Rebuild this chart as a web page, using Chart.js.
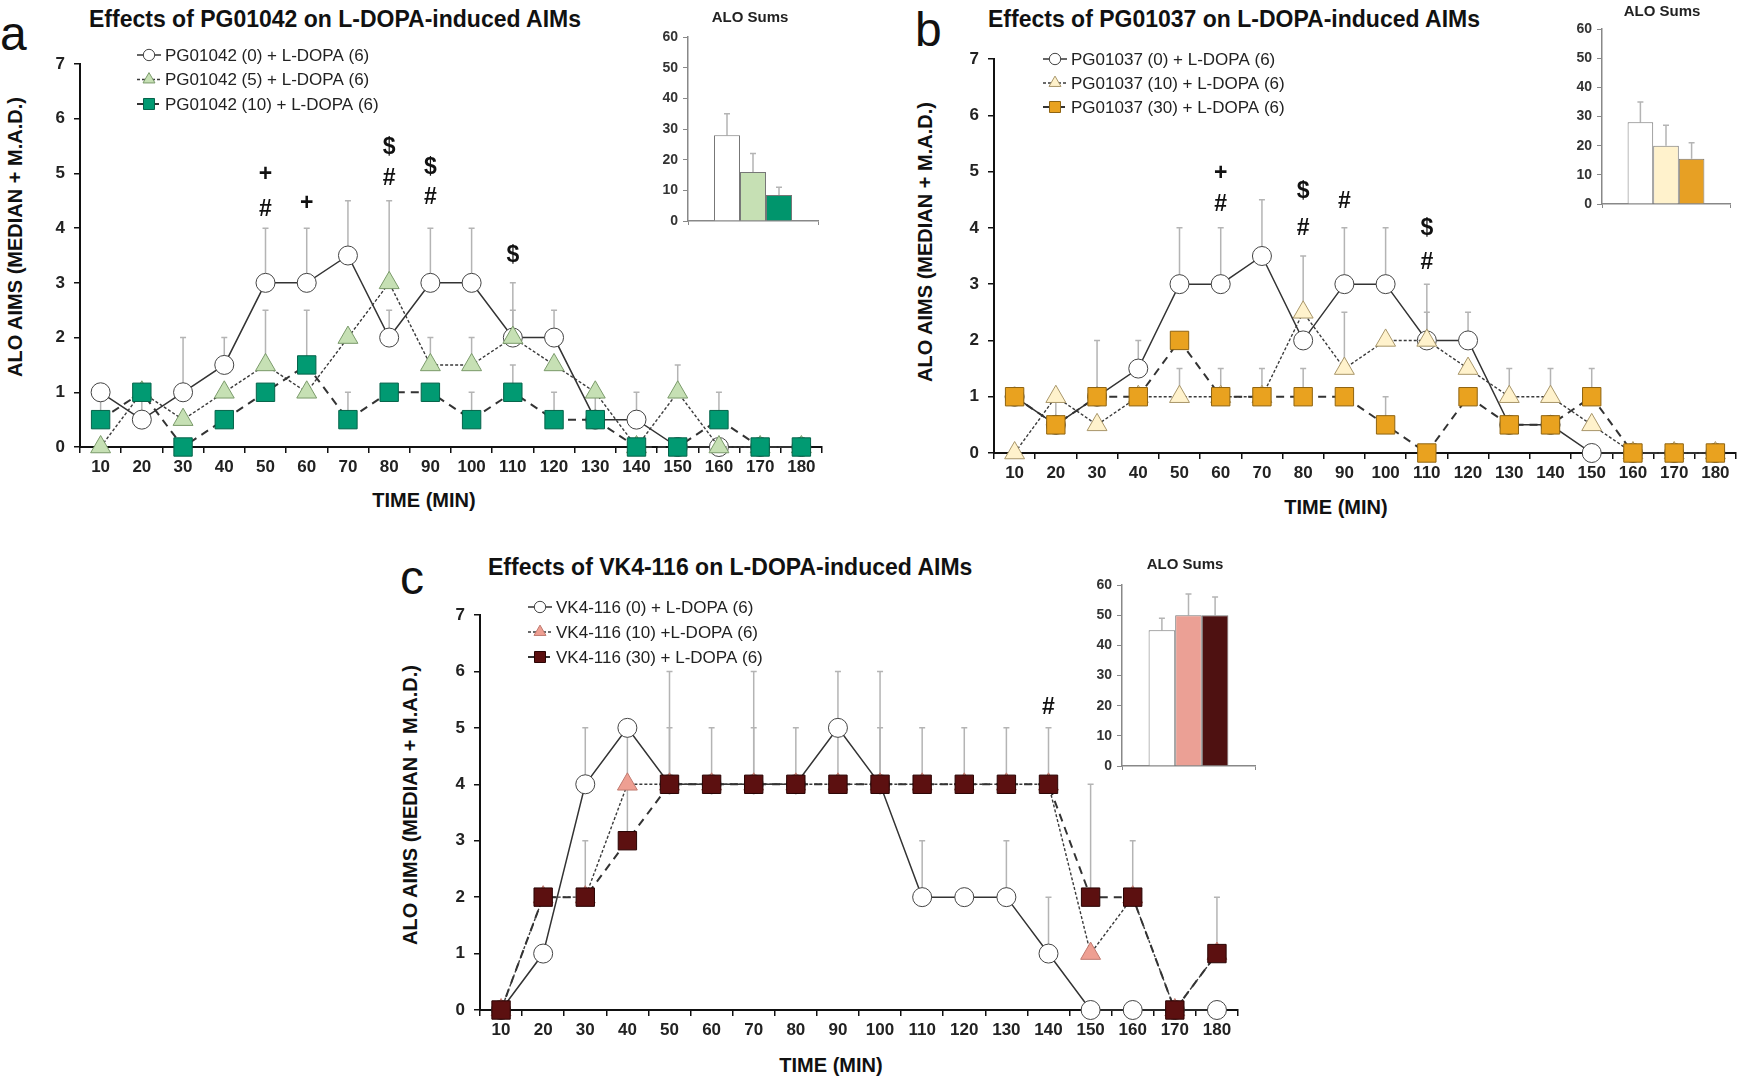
<!DOCTYPE html>
<html>
<head>
<meta charset="utf-8">
<script src="https://cdn.jsdelivr.net/npm/chart.js@4.4.1/dist/chart.umd.min.js"></script>
<style>
body { margin: 0; background: #fff; width: 1740px; height: 1079px; position: relative; overflow: hidden; font-family: "Liberation Sans", Arial, sans-serif; }
canvas { position: absolute; }
.t { position: absolute; white-space: nowrap; color: #111; line-height: 1; }
.letter { font-size: 48px; }
.title { font-size: 23px; font-weight: bold; }
.mid { transform: translate(-50%, -50%); }
.ytitle { font-size: 20px; font-weight: bold; transform: translate(-50%, -50%) rotate(-90deg); }
.xtitle { font-size: 20px; font-weight: bold; }
.sum { font-size: 15px; font-weight: bold; color: #222; }
</style>
</head>
<body>

<div class="t letter" style="left:0px;top:10px">a</div>
<div class="t letter" style="left:915px;top:6px">b</div>
<div class="t letter" style="left:400px;top:554px">c</div>

<div class="t title" style="left:89px;top:8px">Effects of PG01042 on L-DOPA-induced AIMs</div>
<div class="t title" style="left:988px;top:8px">Effects of PG01037 on L-DOPA-induced AIMs</div>
<div class="t title" style="left:488px;top:556px">Effects of VK4-116 on L-DOPA-induced AIMs</div>

<div class="t ytitle" style="left:15px;top:237px">ALO AIMS (MEDIAN + M.A.D.)</div>
<div class="t ytitle" style="left:925px;top:242px">ALO AIMS (MEDIAN + M.A.D.)</div>
<div class="t ytitle" style="left:410px;top:805px">ALO AIMS (MEDIAN + M.A.D.)</div>

<div class="t xtitle mid" style="left:424px;top:500px">TIME (MIN)</div>
<div class="t xtitle mid" style="left:1336px;top:507px">TIME (MIN)</div>
<div class="t xtitle mid" style="left:831px;top:1065px">TIME (MIN)</div>

<canvas id="chartA" width="840" height="490" style="left:0px;top:0px"></canvas>
<canvas id="chartB" width="852" height="490" style="left:900px;top:0px"></canvas>
<canvas id="chartC" width="872" height="539" style="left:380px;top:540px"></canvas>

<canvas id="sumA" width="200" height="240" style="left:628px;top:0px"></canvas>
<canvas id="sumB" width="195" height="225" style="left:1545px;top:0px"></canvas>
<canvas id="sumC" width="195" height="225" style="left:1065px;top:560px"></canvas>

<div class="t sum mid" style="left:750px;top:16px">ALO Sums</div>
<div class="t sum mid" style="left:1662px;top:10px">ALO Sums</div>
<div class="t sum mid" style="left:1185px;top:563px">ALO Sums</div>

<script>
var times = ['10', '20', '30', '40', '50', '60', '70', '80', '90', '100', '110', '120', '130', '140', '150', '160', '170', '180'];

// panel a - PG01042
var aCtrl = [1, 0.5, 1, 1.5, 3, 3, 3.5, 2, 3, 3, 2, 2, 0.5, 0.5, 0, 0, 0, 0];
var aLow = [0, 1, 0.5, 1, 1.5, 1, 2, 3, 1.5, 1.5, 2, 1.5, 1, 0, 1, 0, 0, 0];
var aHigh = [0.5, 1, 0, 0.5, 1, 1.5, 0.5, 1, 1, 0.5, 1, 0.5, 0.5, 0, 0, 0.5, 0, 0];
var aCtrlErr = [null, 1, 2, 2, 4, 4, 4.5, 2.5, 4, 4, 3, 2.5, null, 1, null, null, null, null];
var aLowErr = [null, null, null, null, 2.5, null, null, 4.5, 2, 2, 2.5, null, null, null, 1.5, null, null, null];
var aHighErr = [1, null, null, null, null, 2.5, 1, null, null, 1, 1.5, 1, 1, null, null, 1, null, null];

// panel b - PG01037
var bCtrl = [1, 0.5, 1, 1.5, 3, 3, 3.5, 2, 3, 3, 2, 2, 0.5, 0.5, 0, 0, 0, 0];
var bLow = [0, 1, 0.5, 1, 1, 1, 1, 2.5, 1.5, 2, 2, 1.5, 1, 1, 0.5, 0, 0, 0];
var bHigh = [1, 0.5, 1, 1, 2, 1, 1, 1, 1, 0.5, 0, 1, 0.5, 0.5, 1, 0, 0, 0];
var bCtrlErr = [null, null, 2, 2, 4, 4, 4.5, null, 4, 4, 3, 2.5, null, null, null, null, null, null];
var bLowErr = [null, null, null, null, 1.5, 1.5, 1.5, 3.5, 2.5, null, 2.5, null, 1.5, 1.5, null, null, null, null];
var bHighErr = [null, 1, null, null, null, null, null, 1.5, null, 1, null, null, null, null, 1.5, null, null, null];

// panel c - VK4-116
var cCtrl = [0, 1, 4, 5, 4, 4, 4, 4, 5, 4, 2, 2, 2, 1, 0, 0, 0, 0];
var cLow = [0, 2, 2, 4, 4, 4, 4, 4, 4, 4, 4, 4, 4, 4, 1, 2, 0, 1];
var cHigh = [0, 2, 2, 3, 4, 4, 4, 4, 4, 4, 4, 4, 4, 4, 2, 2, 0, 1];
var cCtrlErr = [null, null, 5, null, null, null, null, null, 6, null, 3, null, 3, 2, null, null, null, null];
var cLowErr = [null, null, null, 5, 5, null, 5, null, null, 5, null, null, null, null, null, null, null, null];
var cHighErr = [null, null, 3, 4, 6, 5, 6, 5, 5, 6, 5, 5, 5, 5, 4, 3, null, 2];

// significance marks: time, height, symbol
var aMarkAt = ['50', '50', '60', '80', '80', '90', '90', '110'];
var aMarkY = [4.97, 4.34, 4.44, 5.48, 4.91, 5.11, 4.56, 3.49];
var aMarkSym = ['+', '#', '+', '$', '#', '$', '#', '$'];
var bMarkAt = ['60', '60', '80', '80', '90', '110', '110'];
var bMarkY = [4.96, 4.42, 4.64, 3.99, 4.46, 3.99, 3.39];
var bMarkSym = ['+', '#', '$', '#', '#', '$', '#'];
var cMarkAt = ['140'];
var cMarkY = [5.36];
var cMarkSym = ['#'];

// ALO sums insets
var aSums = [28, 16, 8.5];
var aSumErr = [35, 22, 11];
var bSums = [28, 20, 15.5];
var bSumErr = [35, 27, 21];
var cSums = [45, 50, 50];
var cSumErr = [49, 57, 56];

var FONT = '"Liberation Sans", Arial, sans-serif';

var errorBars = {
    id: 'errorBars',
    beforeDatasetsDraw: function(chart) {
        var ctx = chart.ctx;
        var ys = chart.scales.y;
        chart.data.datasets.forEach(function(ds, i) {
            if (!ds.errTop) return;
            var meta = chart.getDatasetMeta(i);
            ds.errTop.forEach(function(top, j) {
                if (top == null) return;
                var x = meta.data[j].x;
                var y0 = ys.getPixelForValue(ds.data[j]);
                var y1 = ys.getPixelForValue(top);
                ctx.save();
                ctx.strokeStyle = '#b4b4b4';
                ctx.lineWidth = 1.5;
                ctx.beginPath();
                ctx.moveTo(x, y0);
                ctx.lineTo(x, y1);
                ctx.moveTo(x - 3, y1);
                ctx.lineTo(x + 3, y1);
                ctx.stroke();
                ctx.restore();
            });
        });
    }
};

var boxLegend = {
    id: 'boxLegend',
    afterDraw: function(chart, args, opts) {
        if (!opts || opts.x == null) return;
        var ctx = chart.ctx;
        chart.data.datasets.forEach(function(ds, i) {
            var y = opts.y + i * opts.gap;
            var x0 = opts.x, x1 = opts.x + 24;
            ctx.save();
            ctx.strokeStyle = ds.borderColor;
            ctx.lineWidth = ds.borderWidth;
            ctx.setLineDash(ds.borderDash || []);
            ctx.beginPath();
            ctx.moveTo(x0, y);
            ctx.lineTo(x1, y);
            ctx.stroke();
            ctx.setLineDash([]);
            ctx.fillStyle = ds.pointBackgroundColor;
            ctx.strokeStyle = ds.pointBorderColor;
            ctx.lineWidth = 1;
            Chart.helpers.drawPoint(ctx, { pointStyle: ds.pointStyle, radius: ds.pointRadius * 0.6, borderWidth: 1, rotation: 0 }, (x0 + x1) / 2, y);
            ctx.fillStyle = '#222';
            ctx.font = '17px ' + FONT;
            ctx.textBaseline = 'middle';
            ctx.fillText(ds.label, x1 + 4, y + 1);
            ctx.restore();
        });
    }
};

var sigMarks = {
    id: 'sigMarks',
    afterDatasetsDraw: function(chart, args, opts) {
        if (!opts || !opts.at) return;
        var ctx = chart.ctx;
        var xs = chart.scales.x, ys = chart.scales.y;
        ctx.save();
        ctx.font = 'bold 23px ' + FONT;
        ctx.fillStyle = '#111';
        ctx.textAlign = 'center';
        ctx.textBaseline = 'middle';
        opts.at.forEach(function(t, k) {
            ctx.fillText(opts.sym[k], xs.getPixelForValue(times.indexOf(t)), ys.getPixelForValue(opts.y[k]));
        });
        ctx.restore();
    }
};

function ctrlSet(label, data, err) {
    return { label: label, data: data, errTop: err, clip: false, order: 2,
        borderColor: '#333', borderWidth: 1.5, borderDash: [],
        pointStyle: 'circle', pointRadius: 9.5, pointHoverRadius: 9.5,
        pointBackgroundColor: '#fff', pointBorderColor: '#444', pointBorderWidth: 1 };
}

function triSet(label, data, err, fill, edge) {
    return { label: label, data: data, errTop: err, clip: false, order: 1,
        borderColor: '#3a3a3a', borderWidth: 1.4, borderDash: [3, 2],
        pointStyle: 'triangle', pointRadius: 11.5, pointHoverRadius: 11.5,
        pointBackgroundColor: fill, pointBorderColor: edge, pointBorderWidth: 1 };
}

function sqSet(label, data, err, fill, edge) {
    return { label: label, data: data, errTop: err, clip: false, order: 0,
        borderColor: '#333', borderWidth: 2, borderDash: [8, 6],
        pointStyle: 'rect', pointRadius: 13, pointHoverRadius: 13,
        pointBackgroundColor: fill, pointBorderColor: edge, pointBorderWidth: 1 };
}

function lineChart(id, sets, box, legend, marks) {
    return new Chart(document.getElementById(id), {
        type: 'line',
        data: { labels: times, datasets: sets },
        options: {
            responsive: false,
            animation: false,
            devicePixelRatio: 1,
            layout: { padding: { top: box.top, right: box.right, left: 0, bottom: 0 } },
            plugins: {
                legend: { display: false },
                tooltip: { enabled: false },
                boxLegend: legend,
                sigMarks: marks
            },
            scales: {
                x: {
                    offset: true,
                    grid: { offset: true, drawOnChartArea: false, tickLength: 6, color: '#111', lineWidth: 1.5 },
                    border: { color: '#111', width: 2 },
                    ticks: { color: '#222', autoSkip: false, maxRotation: 0, padding: 4, font: { family: FONT, size: 17, weight: 'bold' } },
                    afterFit: function(s) { s.height = box.xh; s.paddingLeft = 0; s.paddingRight = 0; }
                },
                y: {
                    min: 0,
                    max: 7,
                    grid: { drawOnChartArea: false, tickLength: 6, color: '#111', lineWidth: 1.5 },
                    border: { color: '#111', width: 2 },
                    ticks: { stepSize: 1, color: '#222', padding: 9, font: { family: FONT, size: 17, weight: 'bold' } },
                    afterFit: function(s) { s.width = box.yw; }
                }
            }
        },
        plugins: [errorBars, boxLegend, sigMarks]
    });
}

function sumChart(id, sums, errs, fills, box) {
    return new Chart(document.getElementById(id), {
        type: 'bar',
        data: {
            labels: [''],
            datasets: sums.map(function(v, i) {
                return { data: [v], errTop: [errs[i]], backgroundColor: fills[i], borderColor: '#777', borderWidth: 1,
                    categoryPercentage: 0.6, barPercentage: 1 };
            })
        },
        options: {
            responsive: false,
            animation: false,
            devicePixelRatio: 1,
            layout: { padding: { top: box.top, right: box.right, left: 0, bottom: 0 } },
            plugins: { legend: { display: false }, tooltip: { enabled: false } },
            scales: {
                x: {
                    offset: true,
                    grid: { offset: true, drawOnChartArea: false, tickLength: 4, color: '#888' },
                    border: { color: '#888', width: 1.5 },
                    ticks: { display: false },
                    afterFit: function(s) { s.height = box.xh; s.paddingLeft = 0; s.paddingRight = 0; }
                },
                y: {
                    min: 0,
                    max: 60,
                    grid: { drawOnChartArea: false, tickLength: 5, color: '#888' },
                    border: { color: '#888', width: 1.5 },
                    ticks: { stepSize: 10, color: '#333', padding: 5, font: { family: FONT, size: 14, weight: 'bold' } },
                    afterFit: function(s) { s.width = box.yw; }
                }
            }
        },
        plugins: [errorBars]
    });
}

lineChart('chartA', [
    ctrlSet('PG01042 (0) + L-DOPA (6)', aCtrl, aCtrlErr),
    triSet('PG01042 (5) + L-DOPA (6)', aLow, aLowErr, '#c6e0b4', '#7a9a6a'),
    sqSet('PG01042 (10) + L-DOPA (6)', aHigh, aHighErr, '#019a72', '#05634a')
], { top: 64, right: 18, yw: 80, xh: 43 }, { x: 137, y: 55, gap: 24.5 },
   { at: aMarkAt, y: aMarkY, sym: aMarkSym });

lineChart('chartB', [
    ctrlSet('PG01037 (0) + L-DOPA (6)', bCtrl, bCtrlErr),
    triSet('PG01037 (10) + L-DOPA (6)', bLow, bLowErr, '#fff2cc', '#a8966a'),
    sqSet('PG01037 (30) + L-DOPA (6)', bHigh, bHighErr, '#e9a21f', '#8f6412')
], { top: 59, right: 16, yw: 94, xh: 37 }, { x: 143, y: 59, gap: 24 },
   { at: bMarkAt, y: bMarkY, sym: bMarkSym });

lineChart('chartC', [
    ctrlSet('VK4-116 (0) + L-DOPA (6)', cCtrl, cCtrlErr),
    triSet('VK4-116 (10) +L-DOPA (6)', cLow, cLowErr, '#ee9f92', '#c07a70'),
    sqSet('VK4-116 (30) + L-DOPA (6)', cHigh, cHighErr, '#5c1010', '#2a0404')
], { top: 75, right: 14, yw: 100, xh: 69 }, { x: 148, y: 67, gap: 25 },
   { at: cMarkAt, y: cMarkY, sym: cMarkSym });

sumChart('sumA', aSums, aSumErr, ['#ffffff', '#c6e0b4', '#00956c'], { top: 37, right: 10, yw: 60, xh: 19 });
sumChart('sumB', bSums, bSumErr, ['#ffffff', '#fff2cc', '#e7a024'], { top: 29, right: 10, yw: 57, xh: 21 });
sumChart('sumC', cSums, cSumErr, ['#ffffff', '#eba095', '#4e1111'], { top: 25, right: 5, yw: 57, xh: 19 });
</script>
</body>
</html>
